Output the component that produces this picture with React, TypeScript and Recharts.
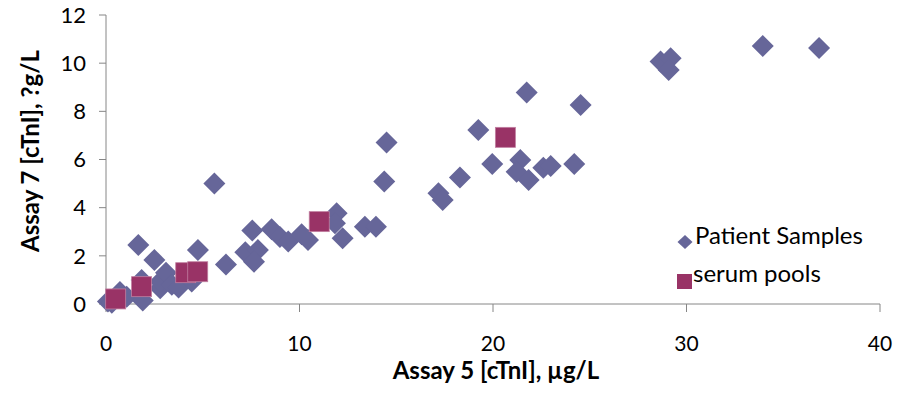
import React from "react";
import { ScatterChart, Scatter, XAxis, YAxis } from "recharts";

const patientX = [0.1, 0.3, 0.55, 0.72, 1.07, 1.9, 1.84, 2.8, 2.8, 3.1, 3.4, 3.75, 4.43, 4.5, 1.67, 2.5, 4.75, 6.2, 7.2, 7.85, 7.65, 7.56, 8.56, 8.99, 9.42, 10.11, 10.44, 5.6, 11.92, 11.83, 12.23, 13.38, 13.95, 14.5, 14.38, 17.18, 17.4, 18.29, 19.24, 19.96, 21.41, 21.22, 21.84, 21.74, 22.6, 22.98, 24.2, 24.53, 28.66, 29.18, 29.08, 33.94, 36.85];
const patientY = [0.1, 0.05, 0.3, 0.5, 0.3, 0.15, 1.0, 0.65, 0.93, 1.3, 0.8, 0.68, 0.93, 1.27, 2.45, 1.83, 2.24, 1.64, 2.15, 2.24, 1.75, 3.05, 3.1, 2.78, 2.6, 2.9, 2.66, 5.0, 3.77, 3.35, 2.73, 3.21, 3.21, 6.71, 5.09, 4.6, 4.32, 5.25, 7.23, 5.81, 5.98, 5.49, 5.15, 8.78, 5.66, 5.73, 5.81, 8.26, 10.07, 10.2, 9.72, 10.71, 10.63];

const poolX = [0.5, 1.84, 4.12, 4.74, 11.02, 20.64];
const poolY = [0.21, 0.72, 1.3, 1.34, 3.42, 6.92];

const xTicks = [0, 10, 20, 30, 40];
const yTicks = [0, 2, 4, 6, 8, 10, 12];

const seriesNames = ["Patient Samples", "serum pools"];

const patientData = patientX.map((x, i) => ({ x, y: patientY[i] }));
const poolData = poolX.map((x, i) => ({ x, y: poolY[i] }));

const FONT = "Lato, 'Liberation Sans', sans-serif";
const DIAMOND = "#666699";
const SQUARE = "#993366";

const Diamond = (props: any) => {
  const { cx, cy } = props;
  const r = 11;
  return (
    <path
      d={`M${cx},${cy - r}L${cx + r},${cy}L${cx},${cy + r}L${cx - r},${cy}Z`}
      fill={DIAMOND}
    />
  );
};

const Square = (props: any) => {
  const { cx, cy } = props;
  const h = 10;
  return (
    <rect x={cx - h} y={cy - h} width={2 * h} height={2 * h} fill={SQUARE} stroke="#c07fa0" strokeWidth={0.8} />
  );
};

const LegendOverlay = () => (
  <svg
    width={230}
    height={80}
    style={{ position: "absolute", left: 670, top: 220, overflow: "visible" }}
  >
    <path d="M15,15L22.5,22L15,29L7.5,22Z" fill={DIAMOND} />
    <text x={25} y={24} fontFamily={FONT} fontSize={24} fill="#000">
      {seriesNames[0]}
    </text>
    <rect x={7} y={54} width={15} height={15} fill={SQUARE} />
    <text x={23} y={62} fontFamily={FONT} fontSize={24} fill="#000">
      {seriesNames[1]}
    </text>
  </svg>
);

export default function App() {
  return (
    <div style={{ position: "absolute", left: 0, top: 0, width: 905, height: 396, background: "#fff" }}>
      <ScatterChart width={905} height={396} margin={{ top: 15, right: 25, bottom: 0, left: 0 }}>
        <XAxis
          type="number"
          dataKey="x"
          domain={[0, 40]}
          ticks={xTicks}
          height={92}
          stroke="#868686"
          tickSize={8}
          tickMargin={24}
          tick={{ fill: "#000", fontSize: 21, fontFamily: FONT }}
          label={{
            content: () => (
              <text x={496} y={379} textAnchor="middle" fontFamily={FONT} fontWeight="bold" fontSize={24} fill="#000">
                Assay 5 [cTnI], µg/L
              </text>
            ),
          }}
        />
        <YAxis
          type="number"
          dataKey="y"
          domain={[0, 12]}
          ticks={yTicks}
          width={106}
          stroke="#868686"
          tickSize={7}
          tickMargin={13}
          tick={{ fill: "#000", fontSize: 22, fontFamily: FONT }}
          label={{
            content: () => (
              <text
                x={39}
                y={151}
                textAnchor="middle"
                transform="rotate(-90 39 151)"
                fontFamily={FONT}
                fontWeight="bold"
                fontSize={24}
                fill="#000"
              >
                Assay 7 [cTnI], ?g/L
              </text>
            ),
          }}
        />
        <Scatter name={seriesNames[0]} data={patientData} shape={Diamond} isAnimationActive={false} />
        <Scatter name={seriesNames[1]} data={poolData} shape={Square} isAnimationActive={false} />
      </ScatterChart>
      <LegendOverlay />
    </div>
  );
}
